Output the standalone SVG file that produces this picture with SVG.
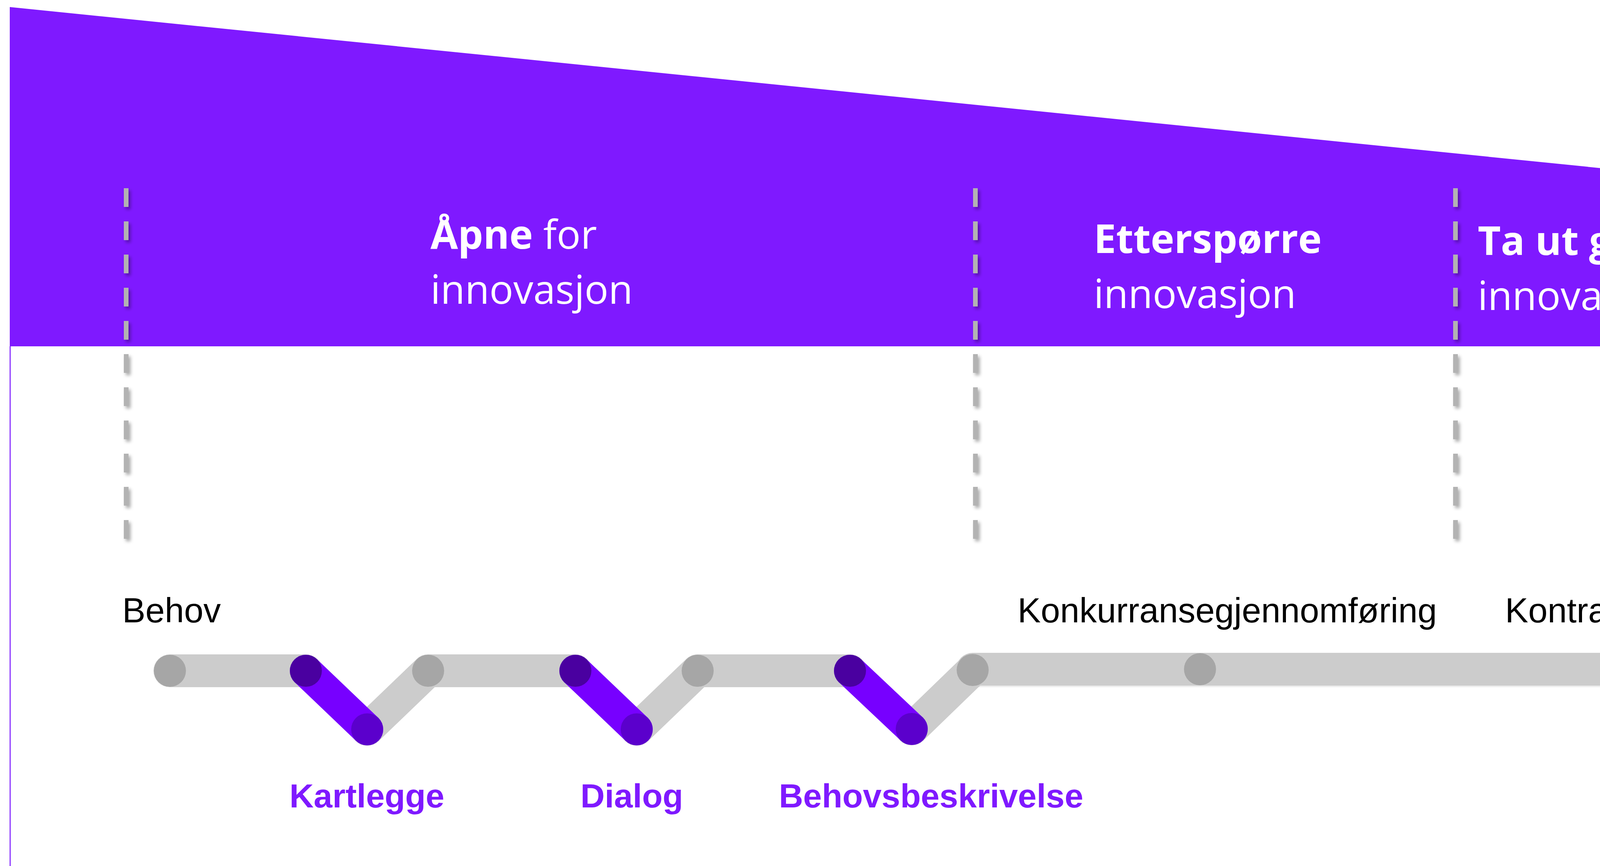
<svg xmlns="http://www.w3.org/2000/svg" width="4645" height="2218" viewBox="0 0 4645 2218">
<defs>
<filter id="sh" x="-100%" y="-10%" width="300%" height="120%">
<feDropShadow dx="5" dy="6" stdDeviation="4" flood-color="#000" flood-opacity="0.35"/>
</filter>
</defs>
<style>
.hd{font-family:"Open Sans","DejaVu Sans",sans-serif;font-size:102px;fill:#ffffff}
.b{font-weight:700}
.lbl{font-family:"Liberation Sans",Arial,sans-serif;font-size:89px;fill:#000000}
.plbl{font-family:"Liberation Sans",Arial,sans-serif;font-size:86px;font-weight:700;fill:#7F19FF}
.band{fill:none;stroke:#CCCCCC;stroke-width:84;stroke-linecap:round;stroke-linejoin:round}
.pseg{fill:none;stroke:#7700FF;stroke-width:82;stroke-linecap:round}
.gn{fill:#A6A6A6}
.pt{fill:#4A00A0}
.pb{fill:#5B00CC}
.dash rect{fill:#B3B3B3}
</style>
<rect width="4645" height="2218" fill="#ffffff"/>
<g id="header">
<polygon points="25,18 4645,486 4645,887 25,887" fill="#7F19FF"/>
<line x1="26" y1="887" x2="26" y2="2218" stroke="#8A33FF" stroke-width="3"/>
<text class="hd" x="1102" y="637"><tspan class="b">Åpne</tspan> for</text>
<text class="hd" x="1102" y="778">innovasjon</text>
<text class="hd" x="2800" y="648"><tspan class="b">Etterspørre</tspan></text>
<text class="hd" x="2800" y="789">innovasjon</text>
<text class="hd" x="3783" y="653"><tspan class="b">Ta ut gevinsten</tspan> av</text>
<text class="hd" x="3783" y="794">innovasjon</text>
</g>
<g id="dividers" filter="url(#sh)">
<g id="divider-1" class="dash">
<rect x="317" y="482" width="12" height="48"/><rect x="317" y="567" width="12" height="48"/><rect x="317" y="652" width="12" height="48"/><rect x="317" y="737" width="12" height="48"/><rect x="317" y="822" width="12" height="48"/><rect x="317" y="907" width="12" height="48"/><rect x="317" y="992" width="12" height="48"/><rect x="317" y="1077" width="12" height="48"/><rect x="317" y="1162" width="12" height="48"/><rect x="317" y="1247" width="12" height="48"/><rect x="317" y="1332" width="12" height="48"/>
</g>
<g id="divider-2" class="dash">
<rect x="2491" y="482" width="12" height="48"/><rect x="2491" y="567" width="12" height="48"/><rect x="2491" y="652" width="12" height="48"/><rect x="2491" y="737" width="12" height="48"/><rect x="2491" y="822" width="12" height="48"/><rect x="2491" y="907" width="12" height="48"/><rect x="2491" y="992" width="12" height="48"/><rect x="2491" y="1077" width="12" height="48"/><rect x="2491" y="1162" width="12" height="48"/><rect x="2491" y="1247" width="12" height="48"/><rect x="2491" y="1332" width="12" height="48"/>
</g>
<g id="divider-3" class="dash">
<rect x="3720" y="482" width="12" height="48"/><rect x="3720" y="567" width="12" height="48"/><rect x="3720" y="652" width="12" height="48"/><rect x="3720" y="737" width="12" height="48"/><rect x="3720" y="822" width="12" height="48"/><rect x="3720" y="907" width="12" height="48"/><rect x="3720" y="992" width="12" height="48"/><rect x="3720" y="1077" width="12" height="48"/><rect x="3720" y="1162" width="12" height="48"/><rect x="3720" y="1247" width="12" height="48"/><rect x="3720" y="1332" width="12" height="48"/>
</g>
</g>
<g id="connectors">
<line x1="2490" y1="1718" x2="4645" y2="1718" stroke="#EEEEEE" stroke-width="84"/>
<path class="band" d="M435,1718 H783"/>
<path class="band" d="M940,1868 L1096,1718 H1473"/>
<path class="band" d="M1630,1868 L1786,1718 H2176"/>
<path class="band" d="M2334,1867 L2490,1716"/>
<path class="band" d="M2490,1714 H4700"/>
<path class="pseg" d="M783,1718 L940,1868"/>
<path class="pseg" d="M1473,1718 L1630,1868"/>
<path class="pseg" d="M2176,1718 L2334,1867"/>
</g>
<g id="node-behov">
<circle class="gn" cx="435" cy="1718" r="41"/>
<text class="lbl" x="313" y="1594">Behov</text>
</g>
<g id="node-kartlegge">
<circle class="pt" cx="783" cy="1718" r="41"/>
<circle class="pb" cx="940" cy="1868" r="41"/>
<text class="plbl" x="741" y="2068">Kartlegge</text>
</g>
<g id="node-g1">
<circle class="gn" cx="1096" cy="1718" r="41"/>
</g>
<g id="node-dialog">
<circle class="pt" cx="1473" cy="1718" r="41"/>
<circle class="pb" cx="1630" cy="1868" r="41"/>
<text class="plbl" x="1486" y="2068">Dialog</text>
</g>
<g id="node-g2">
<circle class="gn" cx="1786" cy="1718" r="41"/>
</g>
<g id="node-behovsbeskrivelse">
<circle class="pt" cx="2176" cy="1718" r="41"/>
<circle class="pb" cx="2334" cy="1867" r="41"/>
<text class="plbl" x="1994" y="2068">Behovsbeskrivelse</text>
</g>
<g id="node-g3">
<circle class="gn" cx="2490" cy="1716" r="41"/>
</g>
<g id="node-konkurransegjennomforing">
<circle class="gn" cx="3072" cy="1714" r="41"/>
<text class="lbl" x="2605" y="1594" font-size="90">Konkurransegjennomføring</text>
</g>
<g id="node-kontraktoppfolging">
<circle class="gn" cx="4234" cy="1714" r="41"/>
<text class="lbl" x="3853" y="1594" font-size="91">Kontraktoppfølging</text>
</g>
</svg>
